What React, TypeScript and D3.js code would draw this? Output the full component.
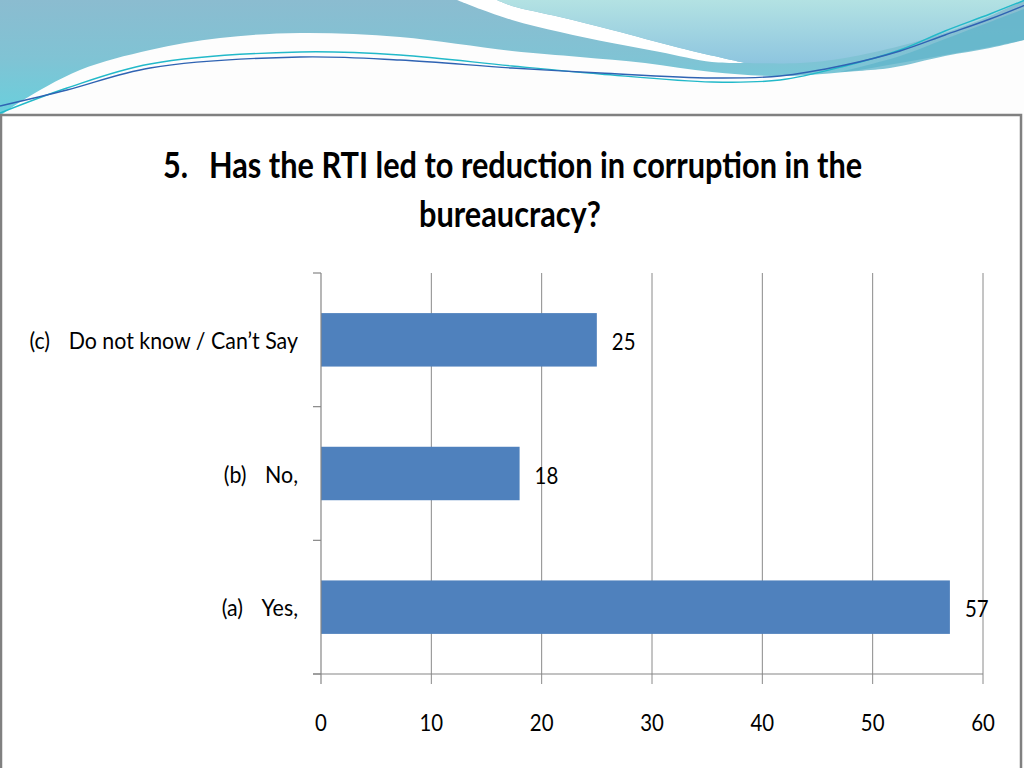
import React from "react";
import * as d3 from "d3";

// ---- data ----
const letters = ["(c)", "(b)", "(a)"];
const answers = ["Do not know / Can\u2019t Say", "No,", "Yes,"];
const values = [25, 18, 57];
const xTicks = [0, 10, 20, 30, 40, 50, 60];
const titleNumber = "5.";
const titleLine1 = "Has the RTI led to reduction in corruption in the";
const titleLine2 = "bureaucracy?";

const W = 1024;
const H = 768;
const FONT = "Lato, 'Open Sans', sans-serif";

type P = [number, number];

const curve = (pts: P[]) =>
  d3.line<P>().x((d) => d[0]).y((d) => d[1]).curve(d3.curveCatmullRom)(pts) || "";

// decorative header wave outlines
const bandLower: P[] = [
  [0, 116], [20, 102], [80, 70], [150, 50], [220, 38], [300, 33], [400, 37],
  [512, 51], [580, 57], [645, 63], [712, 72], [779, 76], [845, 72], [900, 63],
  [945, 55], [990, 47], [1024, 40],
];
const streakUpper: P[] = [
  [497, 0], [512, 6], [560, 17], [612, 30], [680, 48], [745, 63],
];
const streakLower: P[] = [
  [745, 63], [712, 62], [660, 52], [612, 43], [560, 32], [512, 20], [480, 9], [457, 0],
];
const upperRight: P[] = [
  [745, 63], [800, 63], [845, 58], [900, 46], [945, 33], [990, 16], [1024, 0],
];
const tealUpper: P[] = [[840, 72], [900, 56], [945, 39], [990, 22], [1024, 9]];
const tealLower: P[] = [[1024, 40], [990, 48], [945, 56], [890, 68], [840, 72]];
const cyanLine: P[] = [
  [0, 113], [67, 88], [150, 64], [300, 52], [400, 55], [512, 66], [600, 74],
  [712, 82], [780, 80], [845, 66], [900, 50], [945, 31], [990, 14], [1030, -2],
];
const blueLine: P[] = [
  [0, 106], [67, 90], [150, 68], [300, 57], [400, 60], [512, 68], [600, 73],
  [712, 78], [780, 76], [845, 65], [900, 51], [945, 35], [990, 19], [1030, 3],
];

const SqText = ({
  x, y, sx, anchor = "start", size, weight = 400, children,
}: {
  x: number; y: number; sx: number; anchor?: string; size: number; weight?: number;
  children: React.ReactNode;
}) => (
  <g transform={`translate(${x},${y}) scale(${sx},1)`}>
    <text
      x={0}
      y={0}
      textAnchor={anchor as any}
      fontFamily={FONT}
      fontSize={size}
      fontWeight={weight}
      fill="#000"
    >
      {children}
    </text>
  </g>
);

export default function App() {
  const x = d3.scaleLinear().domain([0, 60]).range([321, 983]);
  const y = d3
    .scaleBand<string>()
    .domain(letters)
    .range([273, 674])
    .paddingInner(0.6)
    .paddingOuter(0.3);
  const step = y.step();
  const bandEdges = d3.range(letters.length + 1).map((i) => 273 + i * step);

  return (
    <svg
      width={W}
      height={H}
      style={{ position: "absolute", left: 0, top: 0, background: "#fdfdfd" }}
    >
      <defs>
        <linearGradient id="gTop" x1="0" y1="0" x2="0" y2="116" gradientUnits="userSpaceOnUse">
          <stop offset="0" stopColor="#8bbcd0" />
          <stop offset="0.5" stopColor="#80c3d4" />
          <stop offset="1" stopColor="#68d0dd" />
        </linearGradient>
        <linearGradient id="gUR" x1="0" y1="0" x2="0" y2="66" gradientUnits="userSpaceOnUse">
          <stop offset="0" stopColor="#b3e2e3" />
          <stop offset="1" stopColor="#8cc4df" />
        </linearGradient>
      </defs>

      {/* header waves */}
      <path d={`M0,0 L1024,0 ${curve([...bandLower].reverse()).replace(/^M/, "L")} Z`} fill="url(#gTop)" />
      <path
        d={`${curve(streakUpper)} ${curve(streakLower).replace(/^M/, "L")} Z`}
        fill="#ffffff"
      />
      <path
        d={`M497,0 ${curve(streakUpper).replace(/^M/, "L")} ${curve(upperRight).replace(/^M/, "L")} L1024,0 Z`}
        fill="url(#gUR)"
      />
      <path
        d={`${curve(tealUpper)} ${curve(tealLower).replace(/^M/, "L")} Z`}
        fill="#62b5ca"
        opacity={0.8}
      />
      <path d={curve(cyanLine)} fill="none" stroke="#22b9c9" strokeWidth={1.4} />
      <path d={curve(blueLine)} fill="none" stroke="#2f63b3" strokeWidth={1.4} />

      {/* content box */}
      <rect x={1} y={115} width={1020} height={700} fill="#ffffff" stroke="#808080" strokeWidth={2.5} />

      {/* title */}
      <SqText x={163} y={178} sx={0.83} size={37} weight={700}>{titleNumber}</SqText>
      <SqText x={209} y={178} sx={0.83} size={37} weight={700}>{titleLine1}</SqText>
      <SqText x={510} y={227} sx={0.83} size={37} weight={700} anchor="middle">{titleLine2}</SqText>

      {/* gridlines */}
      {xTicks.filter((t) => t > 0).map((t) => (
        <line key={"g" + t} x1={x(t)} x2={x(t)} y1={273} y2={684} stroke="#8a8a8a" strokeWidth={1} />
      ))}

      {/* bars */}
      {letters.map((c, i) => (
        <rect
          key={"b" + c}
          x={x(0)}
          y={y(c)!}
          width={x(values[i]) - x(0)}
          height={y.bandwidth()}
          fill="#4f81bd"
        />
      ))}

      {/* axes */}
      <line x1={x(0)} x2={x(0)} y1={273} y2={684} stroke="#868686" strokeWidth={1.2} />
      <line x1={313} x2={x(60)} y1={674} y2={674} stroke="#868686" strokeWidth={1.2} />
      {bandEdges.map((e, i) => (
        <line key={"t" + i} x1={313} x2={x(0)} y1={e} y2={e} stroke="#868686" strokeWidth={1.2} />
      ))}

      {/* x tick labels */}
      {xTicks.map((t) => (
        <SqText key={"xl" + t} x={x(t)} y={731} sx={0.85} size={24} anchor="middle">{t}</SqText>
      ))}

      {/* value labels */}
      {letters.map((c, i) => (
        <SqText key={"v" + c} x={x(values[i]) + 15} y={y(c)! + y.bandwidth() / 2 + 10} sx={0.85} size={24}>
          {values[i]}
        </SqText>
      ))}

      {/* category labels */}
      {letters.map((c, i) => (
        <SqText key={"c" + c} x={298} y={y(c)! + y.bandwidth() / 2 + 9} sx={0.93} size={23} anchor="end">
          <tspan>{c}</tspan>
          <tspan dx={20}>{answers[i]}</tspan>
        </SqText>
      ))}
    </svg>
  );
}
